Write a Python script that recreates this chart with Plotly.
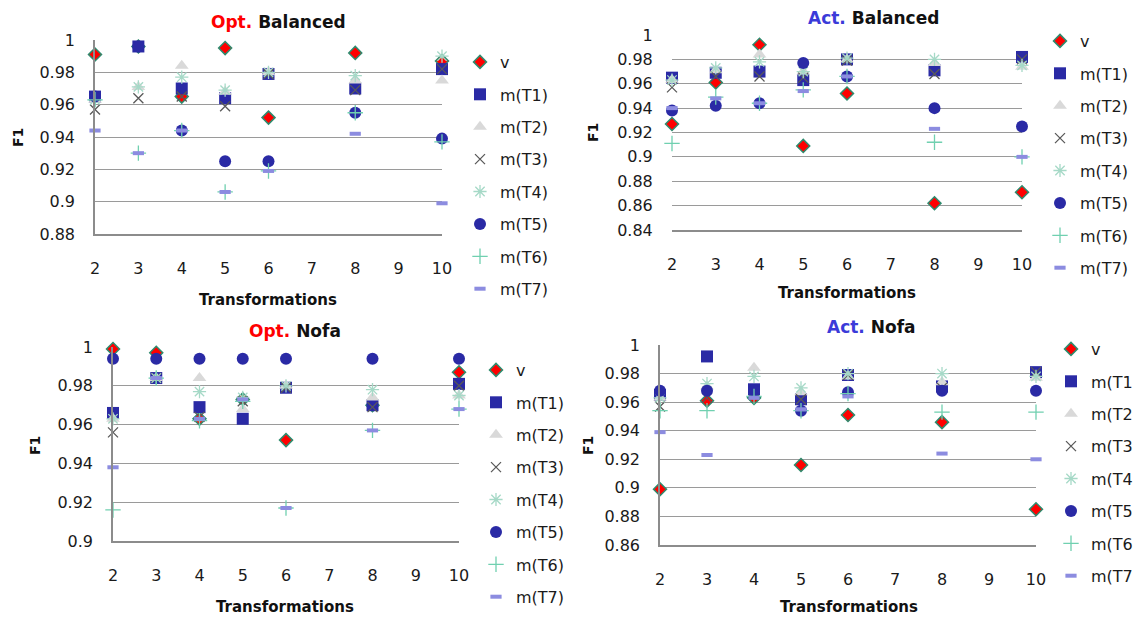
import plotly.graph_objects as go

# ---------------- data ----------------
x_vals = [2, 3, 4, 5, 6, 8, 10]
series_names = ["v", "m(T1)", "m(T2)", "m(T3)", "m(T4)", "m(T5)", "m(T6)", "m(T7)"]
x_ticks = [2, 3, 4, 5, 6, 7, 8, 9, 10]

# rows: v, T1..T7 ; columns follow x_vals
opt_balanced = [
    [0.991, 0.996, 0.965, 0.995, 0.952, 0.992, 0.987],
    [0.965, 0.996, 0.970, 0.964, 0.979, 0.970, 0.982],
    [0.963, 0.971, 0.984, 0.968, 0.980, 0.975, 0.975],
    [0.957, 0.964, 0.965, 0.959, 0.979, 0.969, 0.982],
    [0.963, 0.971, 0.977, 0.969, 0.980, 0.978, 0.990],
    [0.965, 0.996, 0.944, 0.925, 0.925, 0.955, 0.939],
    [0.963, 0.930, 0.944, 0.906, 0.919, 0.955, 0.937],
    [0.944, 0.930, 0.944, 0.906, 0.919, 0.942, 0.899],
]
act_balanced = [
    [0.927, 0.961, 0.992, 0.909, 0.952, 0.862, 0.871],
    [0.965, 0.969, 0.970, 0.963, 0.980, 0.971, 0.982],
    [0.963, 0.971, 0.984, 0.970, 0.980, 0.977, 0.974],
    [0.957, 0.966, 0.966, 0.965, 0.979, 0.968, 0.980],
    [0.963, 0.973, 0.978, 0.970, 0.981, 0.980, 0.975],
    [0.938, 0.942, 0.944, 0.977, 0.966, 0.940, 0.925],
    [0.911, 0.949, 0.944, 0.955, 0.966, 0.912, 0.900],
    [0.940, 0.948, 0.944, 0.954, 0.966, 0.923, 0.900],
]
opt_nofa = [
    [0.999, 0.997, 0.963, 0.973, 0.952, 0.970, 0.987],
    [0.966, 0.984, 0.969, 0.963, 0.979, 0.970, 0.981],
    [0.963, 0.984, 0.984, 0.968, 0.980, 0.974, 0.975],
    [0.956, 0.984, 0.964, 0.972, 0.979, 0.969, 0.980],
    [0.963, 0.984, 0.977, 0.974, 0.980, 0.978, 0.975],
    [0.994, 0.994, 0.994, 0.994, 0.994, 0.994, 0.994],
    [0.916, 0.984, 0.962, 0.972, 0.917, 0.957, 0.968],
    [0.938, 0.984, 0.963, 0.973, 0.917, 0.957, 0.968],
]
act_nofa = [
    [0.899, 0.961, 0.963, 0.916, 0.951, 0.946, 0.885],
    [0.965, 0.992, 0.969, 0.962, 0.979, 0.971, 0.981],
    [0.963, 0.971, 0.984, 0.967, 0.978, 0.974, 0.977],
    [0.957, 0.963, 0.965, 0.962, 0.979, 0.970, 0.981],
    [0.963, 0.973, 0.978, 0.970, 0.980, 0.980, 0.978],
    [0.968, 0.968, 0.968, 0.954, 0.967, 0.968, 0.968],
    [0.954, 0.954, 0.964, 0.954, 0.966, 0.953, 0.953],
    [0.939, 0.923, 0.963, 0.955, 0.964, 0.924, 0.920],
]

y_ticks_ob = [0.88, 0.90, 0.92, 0.94, 0.96, 0.98, 1.0]
y_text_ob = ["0.88", "0.9", "0.92", "0.94", "0.96", "0.98", "1"]
y_ticks_ab = [0.84, 0.86, 0.88, 0.90, 0.92, 0.94, 0.96, 0.98, 1.0]
y_text_ab = ["0.84", "0.86", "0.88", "0.9", "0.92", "0.94", "0.96", "0.98", "1"]
y_ticks_on = [0.90, 0.92, 0.94, 0.96, 0.98, 1.0]
y_text_on = ["0.9", "0.92", "0.94", "0.96", "0.98", "1"]
y_ticks_an = [0.86, 0.88, 0.90, 0.92, 0.94, 0.96, 0.98, 1.0]
y_text_an = ["0.86", "0.88", "0.9", "0.92", "0.94", "0.96", "0.98", "1"]

# ---------------- styles ----------------
OFF = 8                      # browser body margin
W, H = 1141 - OFF, 618 - OFF
FONT = "'DejaVu Sans', Verdana, sans-serif"
TXT = "#1a1a1a"

styles = [
    dict(symbol="diamond", size=10, color="#ff0000", line=dict(color="#2e8b6e", width=1.5)),
    dict(symbol="square", size=12, color="#2a2aa5", line=dict(width=0)),
    dict(symbol="triangle-up", size=12, color="#d9d9d9", line=dict(width=0)),
    dict(symbol="x-thin", size=10, color="#595959", line=dict(color="#595959", width=1.3)),
    dict(symbol="asterisk-open", size=11, color="#a6d9c7", line=dict(color="#a6d9c7", width=1.3)),
    dict(symbol="circle", size=12, color="#2a2aa5", line=dict(width=0)),
    dict(symbol="cross-thin", size=11, color="#70d0b0", line=dict(color="#70d0b0", width=1.3)),
    dict(symbol="line-ew", size=8, color="#8c8ce0", line=dict(color="#8c8ce0", width=4)),
]

def px_x(p):
    return (p - OFF) / W

def px_y(p):
    return 1 - (p - OFF) / H

panels = [
    dict(data=opt_balanced, xd=[95, 442], yd=[40, 234], yr=[0.88, 1.0], yt=y_ticks_ob, ytt=y_text_ob,
         pre="Opt.", pcol="#ff0000", name="Balanced", tx=278, ty=22, f1x=18, f1y=138, trx=268, try_=300,
         lx=498, ly=61, yline=True),
    dict(data=act_balanced, xd=[672, 1022], yd=[35, 230], yr=[0.84, 1.0], yt=y_ticks_ab, ytt=y_text_ab,
         pre="Act.", pcol="#3b3bd9", name="Balanced", tx=873, ty=18, f1x=593, f1y=133, trx=847, try_=293,
         lx=1078, ly=40, yline=False),
    dict(data=opt_nofa, xd=[113, 459], yd=[347, 541], yr=[0.90, 1.0], yt=y_ticks_on, ytt=y_text_on,
         pre="Opt.", pcol="#ff0000", name="Nofa", tx=295, ty=331, f1x=35, f1y=446, trx=285, try_=607,
         lx=514, ly=369, yline=True),
    dict(data=act_nofa, xd=[660, 1036], yd=[345, 545], yr=[0.86, 1.0], yt=y_ticks_an, ytt=y_text_an,
         pre="Act.", pcol="#3b3bd9", name="Nofa", tx=871, ty=327, f1x=588, f1y=446, trx=849, try_=607,
         lx=1089, ly=348, yline=True),
]

fig = go.Figure()
annotations = []
layout = dict(
    width=W, height=H,
    margin=dict(l=0, r=0, t=0, b=0, autoexpand=False),
    paper_bgcolor="white", plot_bgcolor="white",
    font=dict(family=FONT, size=16, color=TXT),
    showlegend=True,
)

for i, p in enumerate(panels):
    k = "" if i == 0 else str(i + 1)
    leg = "legend" if i == 0 else f"legend{i + 1}"
    for j, (nm, st) in enumerate(zip(series_names, styles)):
        fig.add_trace(go.Scatter(
            x=x_vals, y=p["data"][j], mode="markers", name=nm,
            marker=st, xaxis="x" + k, yaxis="y" + k,
            legend=leg, legendgroup=f"g{i}_{j}", cliponaxis=False,
            hoverinfo="x+y+name",
        ))
    layout["xaxis" + k] = dict(
        domain=[px_x(p["xd"][0]), px_x(p["xd"][1])], anchor="y" + k,
        range=[2, 10], tickvals=x_ticks, ticktext=[str(t) for t in x_ticks],
        showgrid=False, zeroline=False, showline=True, linecolor="#8c8c8c", linewidth=1.5,
        ticks="outside", ticklen=19, tickcolor="rgba(0,0,0,0)",
        tickfont=dict(size=16, color=TXT),
    )
    layout["yaxis" + k] = dict(
        domain=[px_y(p["yd"][1]), px_y(p["yd"][0])], anchor="x" + k,
        range=p["yr"], tickvals=p["yt"], ticktext=p["ytt"],
        showgrid=True, gridcolor="#9a9a9a", gridwidth=1, zeroline=False,
        showline=p["yline"], linecolor="#8c8c8c", linewidth=1.5,
        ticks="outside", ticklen=15, tickcolor="rgba(0,0,0,0)",
        tickfont=dict(size=16, color=TXT),
    )
    layout[leg] = dict(
        x=px_x(p["lx"] - 38), y=px_y(p["ly"] - 16), xanchor="left", yanchor="top",
        bgcolor="rgba(0,0,0,0)", font=dict(size=16, color=TXT),
        tracegroupgap=8.6, itemwidth=30,
    )
    annotations.append(dict(
        text=f"<b><span style='color:{p['pcol']}'>{p['pre']}</span> {p['name']}</b>",
        x=px_x(p["tx"]), y=px_y(p["ty"]), xref="paper", yref="paper",
        xanchor="center", yanchor="middle", showarrow=False,
        font=dict(size=17, color="#111111", family=FONT),
    ))
    annotations.append(dict(
        text="<b>F1</b>", x=px_x(p["f1x"]), y=px_y(p["f1y"]), xref="paper", yref="paper",
        xanchor="center", yanchor="middle", showarrow=False, textangle=-90,
        font=dict(size=14, color="#111111", family=FONT),
    ))
    annotations.append(dict(
        text="<b>Transformations</b>", x=px_x(p["trx"]), y=px_y(p["try_"]), xref="paper", yref="paper",
        xanchor="center", yanchor="middle", showarrow=False,
        font=dict(size=15, color="#111111", family=FONT),
    ))

layout["annotations"] = annotations
fig.update_layout(**layout)
fig.write_html("out.html")
